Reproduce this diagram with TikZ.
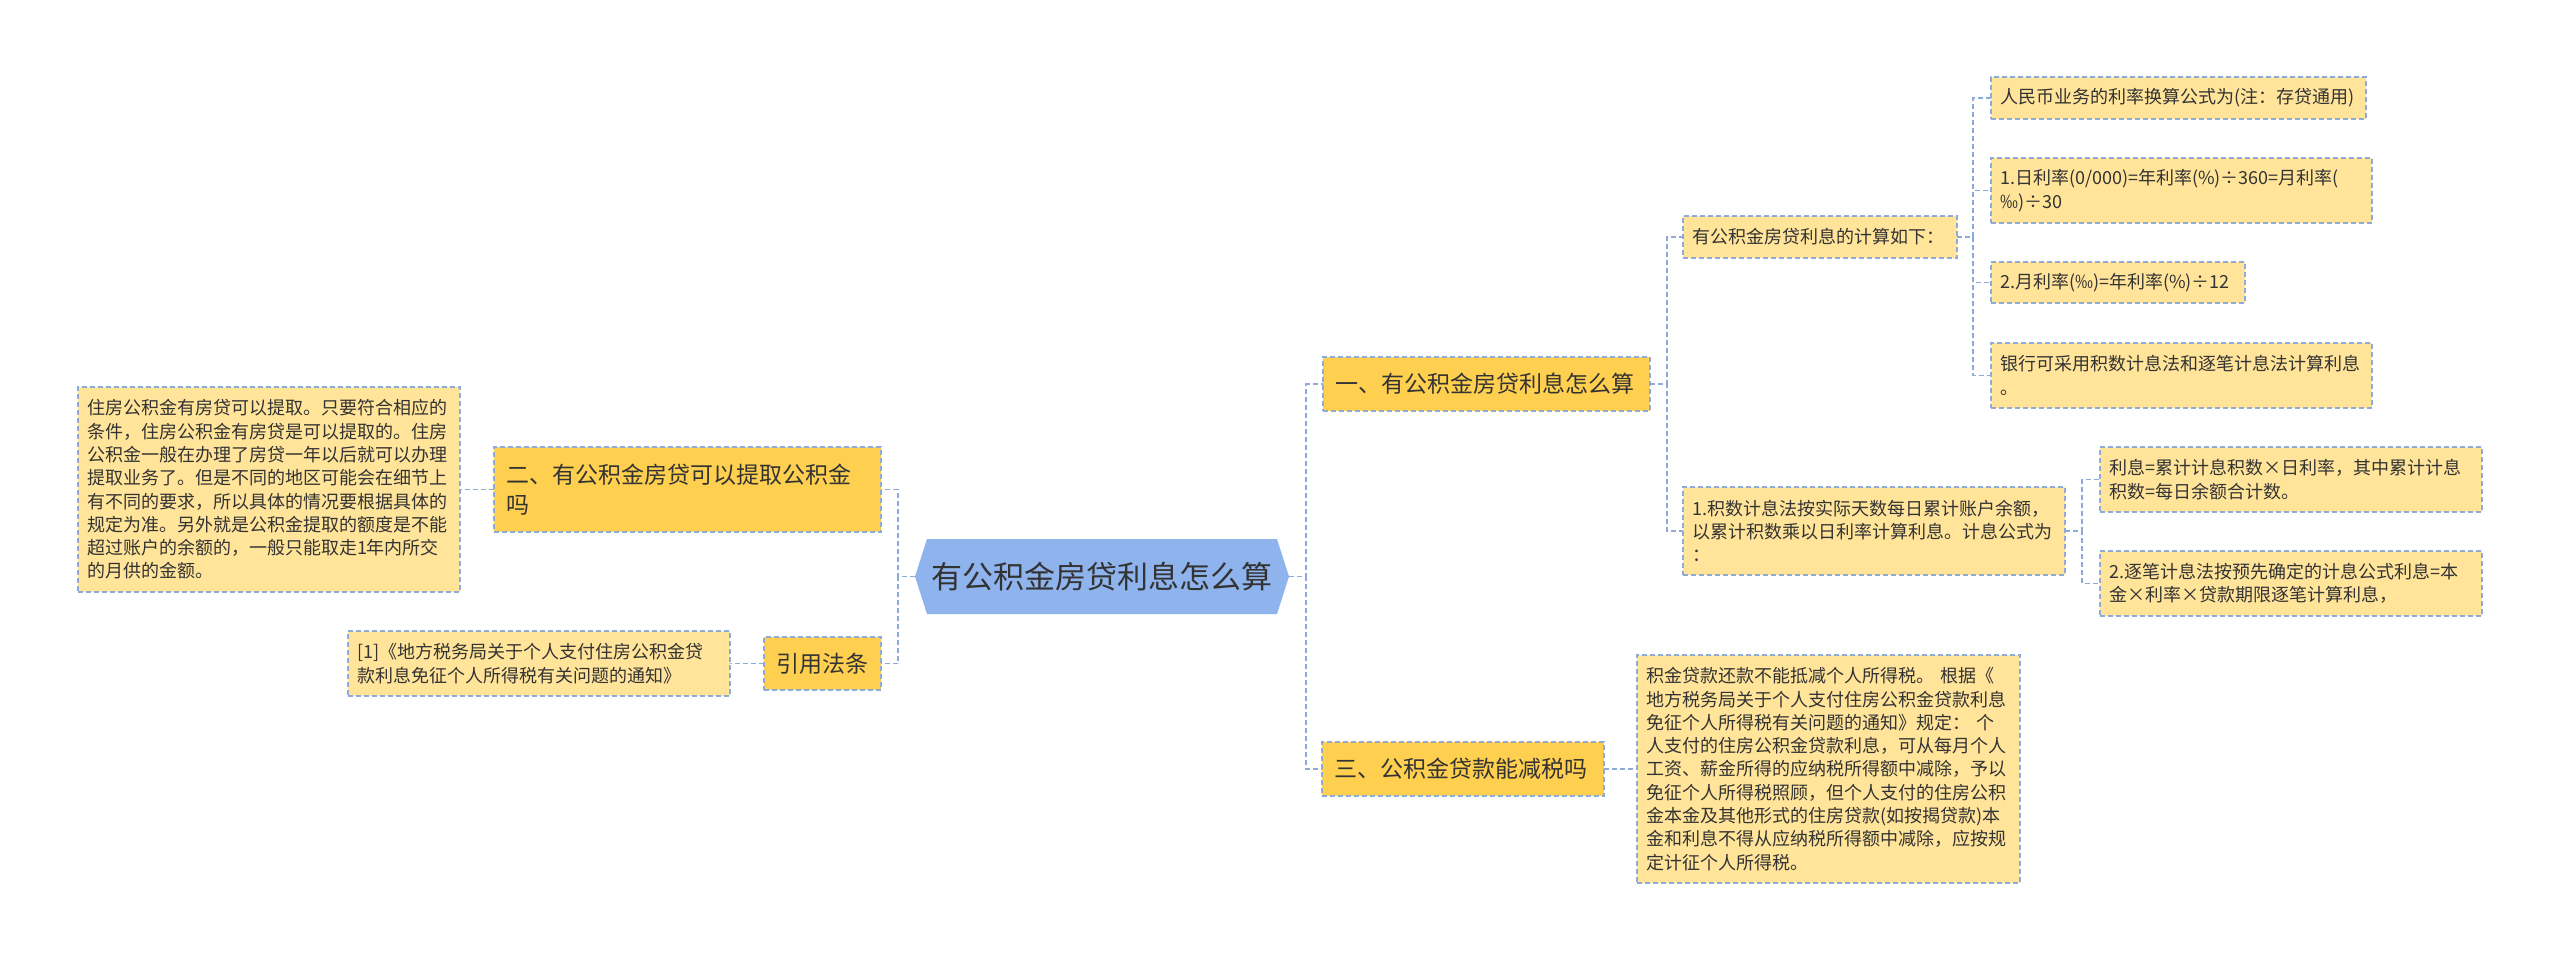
\documentclass[tikz,border=0pt]{standalone}
\usepackage{fontspec}
\setmainfont{Noto Sans CJK SC}
\usetikzlibrary{backgrounds,calc}
\definecolor{lvone}{HTML}{FFD04F}
\definecolor{leaf}{HTML}{FFE49A}
\definecolor{hub}{HTML}{8FB3EC}
\definecolor{link}{HTML}{8DAAD8}
\definecolor{ink}{HTML}{333333}
\tikzset{
  box/.style={rectangle, draw=link, dash pattern=on 5pt off 3pt, line width=1.3pt,
    text=ink, align=left, inner ysep=0pt, outer sep=0pt},
  lvl/.style={box, fill=lvone, font=\fontsize{23}{30}\selectfont, inner xsep=12pt},
  leafbox/.style={box, fill=leaf, font=\fontsize{18}{23.3}\selectfont, inner xsep=9pt},
  hubtext/.style={rectangle, text=ink, font=\fontsize{31}{38}\selectfont, inner sep=0pt, outer sep=0pt,
    minimum width=374pt, minimum height=75pt},
  linkline/.style={draw=link, line width=1.7pt, dash pattern=on 5pt off 3pt}
}
\begin{document}
\begin{tikzpicture}[x=1pt, y=-1pt]
\path[use as bounding box] (0,0) rectangle (2560,961);

% center
\node[hubtext] (c) at (1102,576.5) {有公积金房贷利息怎么算};
\begin{scope}[on background layer]
\fill[white] (0,0) rectangle (2560,961);
\fill[hub] (c.west) -- ($(c.north west)+(12,0)$) -- ($(c.north east)+(-12,0)$) -- (c.east)
  -- ($(c.south east)+(-12,0)$) -- ($(c.south west)+(12,0)$) -- cycle;
\end{scope}

% level one
\node[lvl, minimum width=327pt, minimum height=54pt, text width=303pt] (n1) at (1486.5,384) {一、有公积金房贷利息怎么算};
\node[lvl, minimum width=387pt, minimum height=85pt, text width=363pt] (n2) at (687.5,489.5) {二、有公积金房贷可以提取公积金\\吗};
\node[lvl, minimum width=282pt, minimum height=54pt, text width=258pt] (n3) at (1463,769) {三、公积金贷款能减税吗};
\node[lvl, minimum width=117pt, minimum height=53pt, text width=93pt] (n4) at (822.5,663.5) {引用法条};

% leaves
\node[leafbox, minimum width=274pt, minimum height=42pt, text width=256pt] (a1) at (1820,237) {有公积金房贷利息的计算如下：};
\node[leafbox, minimum width=382pt, minimum height=88pt, text width=364pt] (a2) at (1874,531) {1.积数计息法按实际天数每日累计账户余额，\\以累计积数乘以日利率计算利息。计息公式为\\：};
\node[leafbox, minimum width=375pt, minimum height=42pt, text width=357pt] (b1) at (2178.5,98) {人民币业务的利率换算公式为(注：存贷通用)};
\node[leafbox, minimum width=381pt, minimum height=65pt, text width=363pt] (b2) at (2181.5,190.5) {1.日利率(0/000)=年利率(\%)÷360=月利率(\\‰)÷30};
\node[leafbox, minimum width=254pt, minimum height=41pt, text width=236pt] (b3) at (2118,282.5) {2.月利率(‰)=年利率(\%)÷12};
\node[leafbox, minimum width=381pt, minimum height=65pt, text width=363pt] (b4) at (2181.5,375.5) {银行可采用积数计息法和逐笔计息法计算利息\\。};
\node[leafbox, minimum width=382pt, minimum height=65pt, text width=364pt] (c1) at (2291,479.5) {利息=累计计息积数×日利率，其中累计计息\\积数=每日余额合计数。};
\node[leafbox, minimum width=382pt, minimum height=65pt, text width=364pt] (c2) at (2291,583.5) {2.逐笔计息法按预先确定的计息公式利息=本\\金×利率×贷款期限逐笔计算利息，};
\node[leafbox, minimum width=383pt, minimum height=228pt, text width=365pt] (d1) at (1828.5,769) {积金贷款还款不能抵减个人所得税。 根据《\\地方税务局关于个人支付住房公积金贷款利息\\免征个人所得税有关问题的通知》规定： 个\\人支付的住房公积金贷款利息，可从每月个人\\工资、薪金所得的应纳税所得额中减除，予以\\免征个人所得税照顾，但个人支付的住房公积\\金本金及其他形式的住房贷款(如按揭贷款)本\\金和利息不得从应纳税所得额中减除，应按规\\定计征个人所得税。};
\node[leafbox, minimum width=382pt, minimum height=205pt, text width=364pt] (e1) at (269,489.5) {住房公积金有房贷可以提取。只要符合相应的\\条件，住房公积金有房贷是可以提取的。住房\\公积金一般在办理了房贷一年以后就可以办理\\提取业务了。但是不同的地区可能会在细节上\\有不同的要求，所以具体的情况要根据具体的\\规定为准。另外就是公积金提取的额度是不能\\超过账户的余额的，一般只能取走1年内所交\\的月供的金额。};
\node[leafbox, minimum width=382pt, minimum height=65pt, text width=364pt] (f1) at (539,663.5) {[1]《地方税务局关于个人支付住房公积金贷\\款利息免征个人所得税有关问题的通知》};

% connectors
\draw[linkline] (c.east) -- ++(17,0) |- (n1.west);
\draw[linkline] (c.east) -- ++(17,0) |- (n3.west);
\draw[linkline] (c.west) -- ++(-17,0) |- (n2.east);
\draw[linkline] (c.west) -- ++(-17,0) |- (n4.east);
\draw[linkline] (n1.east) -- ++(17,0) |- (a1.west);
\draw[linkline] (n1.east) -- ++(17,0) |- (a2.west);
\draw[linkline] (a1.east) -- ++(16,0) |- (b1.west);
\draw[linkline] (a1.east) -- ++(16,0) |- (b2.west);
\draw[linkline] (a1.east) -- ++(16,0) |- (b3.west);
\draw[linkline] (a1.east) -- ++(16,0) |- (b4.west);
\draw[linkline] (a2.east) -- ++(17,0) |- (c1.west);
\draw[linkline] (a2.east) -- ++(17,0) |- (c2.west);
\draw[linkline] (n3.east) -- (d1.west);
\draw[linkline] (n2.west) -- (e1.east);
\draw[linkline] (n4.west) -- (f1.east);
\end{tikzpicture}
\end{document}
